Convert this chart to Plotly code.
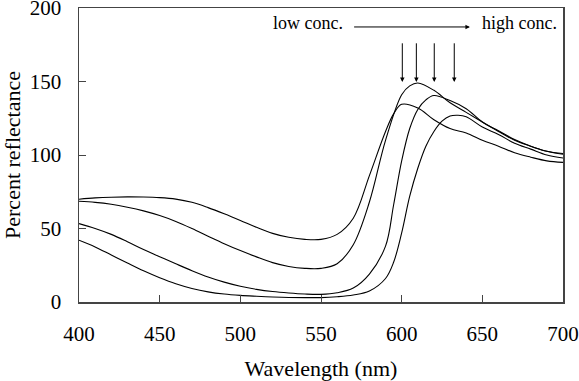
import plotly.graph_objects as go

# Wavelength samples (nm) and percent reflectance for each concentration (low -> high)
wl_1 = [400, 410, 420, 430, 440, 450, 460, 470, 480, 490, 500, 510, 520, 530, 540, 550, 560, 570, 580, 590, 595, 600, 610, 620, 630, 640, 650, 660, 670, 680, 690, 700]
refl_1 = [69.9, 70.8, 71.3, 71.5, 71.4, 71.0, 70.0, 67.8, 64.2, 60.0, 55.5, 50.8, 46.7, 44, 42.6, 42.6, 46, 57, 86, 116, 128, 134.5, 132, 124, 118, 115, 110, 106, 101.5, 98.5, 96, 95]

wl_2 = [400, 410, 420, 430, 440, 450, 460, 470, 480, 490, 500, 510, 520, 530, 540, 550, 560, 570, 580, 590, 600, 605, 610, 620, 630, 640, 650, 660, 670, 680, 690, 700]
refl_2 = [68.5, 67.8, 66.5, 64.5, 62, 58.8, 54.8, 50.0, 44.8, 39.7, 35.0, 30.7, 26.8, 24.2, 22.9, 22.9, 26, 39, 68, 110, 141, 147, 149, 144, 135.5, 129, 122.5, 116, 110, 106, 102.5, 101]

wl_3 = [400, 410, 420, 430, 440, 450, 460, 470, 480, 490, 500, 510, 520, 530, 540, 550, 560, 570, 580, 590, 595, 600, 605, 610, 615, 620, 630, 640, 650, 660, 670, 680, 690, 700]
refl_3 = [53.3, 50, 46, 41, 35.7, 30.8, 26, 21.3, 17, 13.5, 10.7, 8.6, 7.1, 6.1, 5.4, 5.2, 6.3, 9.5, 19, 38, 66, 96, 118, 131, 137.5, 140.5, 137, 131.5, 122.5, 116.5, 110.5, 106, 102.5, 100.5]

wl_4 = [400, 410, 420, 430, 440, 450, 460, 470, 480, 490, 500, 510, 520, 530, 540, 550, 560, 570, 580, 590, 595, 600, 605, 610, 615, 620, 625, 630, 635, 640, 650, 660, 670, 680, 690, 700]
refl_4 = [42, 37.5, 32, 26.5, 21.2, 16.5, 12.4, 9.2, 6.9, 5.4, 4.5, 3.9, 3.4, 3.1, 3, 3, 3.6, 4.8, 7.5, 16, 27, 47, 72, 91, 106, 116, 123, 126.5, 127, 126, 119, 114, 108, 104, 100, 98]

# Peak-marker arrows (wavelength of each peak)
peak_wl = [600.4, 609.1, 620.2, 632.6]

x_ticks = [400, 450, 500, 550, 600, 650, 700]
y_ticks = [0, 50, 100, 150, 200]

FONT = "Liberation Serif, Times New Roman, serif"

fig = go.Figure()
for wl, r in [(wl_1, refl_1), (wl_2, refl_2), (wl_3, refl_3), (wl_4, refl_4)]:
    fig.add_trace(go.Scatter(x=wl, y=r, mode="lines",
                             line=dict(color="black", width=1.1, shape="spline", smoothing=1),
                             showlegend=False, hoverinfo="skip"))

annotations = []
for p in peak_wl:
    annotations.append(dict(x=p, y=149.7, ax=p, ay=177, xref="x", yref="y", axref="x", ayref="y",
                            text="", showarrow=True, arrowhead=2, arrowsize=0.9, arrowwidth=1,
                            arrowcolor="black"))
annotations.append(dict(x=642.3, y=187.1, ax=569.6, ay=187.1, xref="x", yref="y", axref="x", ayref="y",
                        text="", showarrow=True, arrowhead=2, arrowsize=0.9, arrowwidth=1,
                        arrowcolor="black"))
annotations.append(dict(x=541.9, y=189.5, xref="x", yref="y", text="low conc.", showarrow=False,
                        font=dict(family=FONT, size=18, color="black")))
annotations.append(dict(x=673, y=189.5, xref="x", yref="y", text="high conc.", showarrow=False,
                        font=dict(family=FONT, size=18, color="black")))

fig.update_layout(
    width=579, height=381,
    margin=dict(l=79, r=16, t=8, b=79, pad=0),
    paper_bgcolor="white", plot_bgcolor="white",
    font=dict(family=FONT, size=21, color="black"),
    annotations=annotations,
)
fig.update_xaxes(range=[400, 700], tickvals=x_ticks, ticks="inside", ticklen=7, tickcolor="#444",
                 showline=True, mirror=True, linecolor="#444", linewidth=1.5, showgrid=False,
                 zeroline=False, ticklabelstandoff=12, automargin=False, ticklabeloverflow="allow",
                 title=dict(text="Wavelength (nm)", font=dict(family=FONT, size=22), standoff=18))
fig.update_yaxes(range=[0, 200], tickvals=y_ticks, ticks="inside", ticklen=7, tickcolor="#444",
                 showline=True, mirror=True, linecolor="#444", linewidth=1.5, showgrid=False,
                 zeroline=False, ticklabelstandoff=12, automargin=False, ticklabeloverflow="allow",
                 title=dict(text="Percent reflectance", font=dict(family=FONT, size=22), standoff=10))

fig.write_html("out.html", post_script="document.body.style.margin='0';",
               config={"displayModeBar": False, "staticPlot": True})
